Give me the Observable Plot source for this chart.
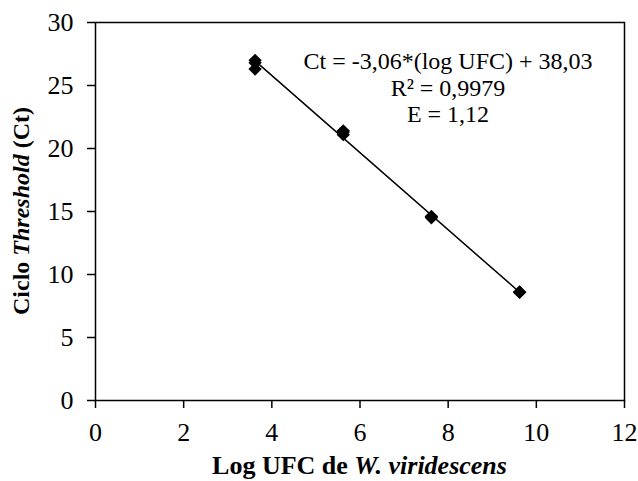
<!DOCTYPE html>
<html><head><meta charset="utf-8">
<script src="https://cdn.jsdelivr.net/npm/d3@7"></script>
<script src="https://cdn.jsdelivr.net/npm/@observablehq/plot@0.6"></script>
<style>body{margin:0;background:#fff;} #chart svg{display:block;} #chart svg text{font-family:"Liberation Serif","Times New Roman",serif !important;}</style>
</head><body><div id="chart"></div>
<script>
const logUFC = [3.62, 3.62, 3.62, 5.62, 5.62, 5.62, 7.62, 7.62, 7.62, 9.62, 9.62, 9.62];
const ct = [27.0, 26.8, 26.3, 21.4, 21.3, 21.1, 14.6, 14.6, 14.5, 8.6, 8.6, 8.6];
const xTicks = [0, 2, 4, 6, 8, 10, 12];
const yTicks = [0, 5, 10, 15, 20, 25, 30];
const slope = -3.06, intercept = 38.03;
const eqLines = ["Ct = -3,06*(log UFC) + 38,03", "R² = 0,9979", "E = 1,12"];

const points = logUFC.map((x, i) => ({x, y: ct[i]}));
const xExt = d3.extent(logUFC);
const fit = xExt.map(x => ({x, y: slope * x + intercept}));

const chart = Plot.plot({
  width: 638, height: 481,
  marginLeft: 95, marginRight: 14, marginTop: 22, marginBottom: 81,
  style: {background: "#fff", color: "#000"},
  x: {domain: [0, 12], ticks: xTicks, label: null},
  y: {domain: [0, 30], ticks: yTicks, label: null},
  marks: [
    Plot.frame({stroke: "#000", strokeWidth: 1.5}),
    Plot.axisX({ticks: xTicks, tickSize: 8, tickPadding: 14, fontSize: 26, stroke: "#000", strokeWidth: 1.5, fill: "#000", label: null}),
    Plot.axisY({ticks: yTicks, tickSize: 8, tickPadding: 14, fontSize: 26, stroke: "#000", strokeWidth: 1.5, fill: "#000", label: null}),
    Plot.line(fit, {x: "x", y: "y", stroke: "#000", strokeWidth: 1.5}),
    Plot.dot(points, {x: "x", y: "y", symbol: "diamond2", r: 6, fill: "#000", stroke: "none"}),
    Plot.text([eqLines.join("\n")], {frameAnchor: "top", dx: 88, dy: 28, lineAnchor: "top", lineHeight: 1.1, fontSize: 24, fill: "#000"})
  ]
});
const svg = d3.select(chart);
svg.append("text")
  .attr("x", (95 + 624) / 2).attr("y", 474)
  .attr("text-anchor", "middle").style("font-weight", "bold").style("font-size", "26px").attr("fill", "#000")
  .call(t => {
    t.append("tspan").text("Log UFC de ");
    t.append("tspan").style("font-style", "italic").text("W. viridescens");
  });
svg.append("text")
  .attr("transform", `translate(29,${(22 + 400) / 2}) rotate(-90)`)
  .attr("text-anchor", "middle").style("font-weight", "bold").style("font-size", "24px").attr("fill", "#000")
  .call(t => {
    t.append("tspan").text("Ciclo ");
    t.append("tspan").style("font-style", "italic").text("Threshold");
    t.append("tspan").text(" (Ct)");
  });
document.getElementById("chart").appendChild(chart);
</script>
</body></html>
